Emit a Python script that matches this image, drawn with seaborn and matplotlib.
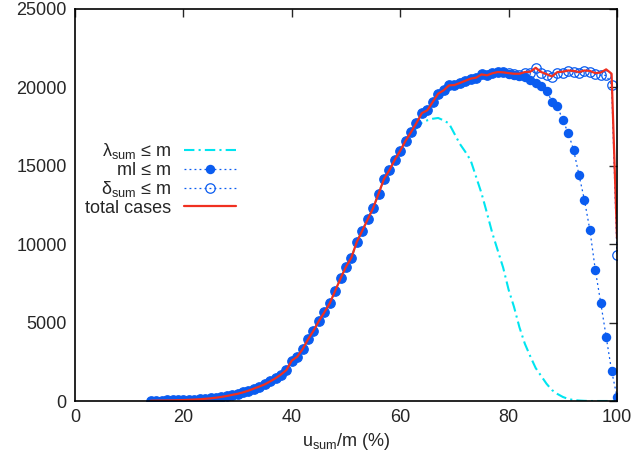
import matplotlib
matplotlib.use('Agg')
import matplotlib.pyplot as plt
import seaborn as sns
import numpy as np

# utilisation grid (%), one sample per percent
u = np.arange(14, 101)

# total number of cases per utilisation value
total = [20, 25, 30, 35, 40, 50, 60, 75, 90, 110,
         140, 170, 210, 260, 320, 390, 460, 550, 660, 790,
         920, 1060, 1250, 1450, 1690, 1970, 2580, 2820, 3310, 3930,
         4480, 5100, 5650, 6230, 7020, 7820, 8560, 9150, 10150, 10860,
         11580, 12300, 13210, 14150, 14720, 15380, 15960, 16600, 17150, 17730,
         18360, 18540, 19070, 19600, 19810, 20130, 20150, 20280, 20420, 20560,
         20620, 20830, 20770, 20900, 20980, 20960, 20910, 20870, 20870, 20980,
         21000, 21250, 20980, 20850, 20700, 20980, 21000, 21080, 21050, 20980,
         21080, 21050, 20910, 20950, 21150, 20870, 10400]

# lambda_sum <= m : same as total up to 62 %, then
lam_tail = [17400, 17750, 17900, 18000, 18050, 17900, 17700, 17050, 16400, 15900,
            15350, 14300, 13250, 12000, 10700, 9600, 8500, 7100, 6000, 4700,
            3650, 2850, 2100, 1600, 1100, 700, 450, 260, 130, 60,
            30, 10, 0, 0, 0, 0, 0, 0]
# ml <= m : same as total up to 79 %, then
ml_tail = [20850, 20800, 20750, 20650, 20500, 20300, 20080, 19800, 19100, 18800,
           17900, 17100, 16000, 14400, 12800, 10900, 8350, 6260, 4100, 1930, 270]
# delta_sum <= m : same as total up to 79 %, then
delta_tail = [20900, 20850, 20800, 20900, 20950, 21250, 20950, 20800, 20660, 20950,
              20950, 21050, 21000, 20900, 21050, 21000, 20850, 20770, 20770, 20170, 9300]

lam = total[:len(total) - len(lam_tail)] + lam_tail
ml = total[:len(total) - len(ml_tail)] + ml_tail
delta = total[:len(total) - len(delta_tail)] + delta_tail

sns.set_style('white')
plt.rcParams['font.family'] = ['Liberation Sans', 'DejaVu Sans']
plt.rcParams['mathtext.fontset'] = 'custom'
plt.rcParams['mathtext.rm'] = 'Liberation Sans'
plt.rcParams['font.size'] = 13

blue = '#0a5cf0'

fig = plt.figure(figsize=(6.33, 4.63), dpi=100)
ax = fig.add_axes([75 / 633, 1 - 401 / 463, 542 / 633, 392 / 463])

sns.lineplot(x=u, y=lam, ax=ax, color='#00e5f0', lw=1.5, dashes=False,
             linestyle=(0, (5, 2, 1, 2)), label=r'λ$_{\rm sum}$ ≤ m')
sns.lineplot(x=u, y=ml, ax=ax, color=blue, lw=0.9, linestyle=(0, (1.5, 2.5)),
             marker='o', markersize=6.8, markeredgewidth=0, label='ml ≤ m')
sns.lineplot(x=u, y=delta, ax=ax, color=blue, lw=0.9, linestyle=(0, (1.5, 2.5)),
             marker='o', markersize=6.8, markerfacecolor='none',
             markeredgecolor=blue, markeredgewidth=0.9, label=r'δ$_{\rm sum}$ ≤ m')
sns.lineplot(x=u, y=total, ax=ax, color='#f03020', lw=1.6, label='total cases')

ax.set_xlim(0, 100)
ax.set_ylim(0, 25000)
ax.set_xticks(range(0, 101, 20))
ax.set_yticks(range(0, 25001, 5000))
ax.set_xlabel(r'u$_{\rm sum}$/m (%)', labelpad=3)
ax.set_ylabel('')
ax.tick_params(direction='in', length=6, width=1, top=True, right=True,
               labelsize=13, pad=6)
for s in ax.spines.values():
    s.set_linewidth(1.2)
    s.set_color('black')

leg = ax.legend(loc='upper right', bbox_to_anchor=(0.297, 0.662),
                frameon=False, markerfirst=False, borderpad=0,
                borderaxespad=0, handlelength=2.9, handletextpad=0.7,
                labelspacing=0.02, fontsize=13)

fig.savefig('out.png', dpi=100)
